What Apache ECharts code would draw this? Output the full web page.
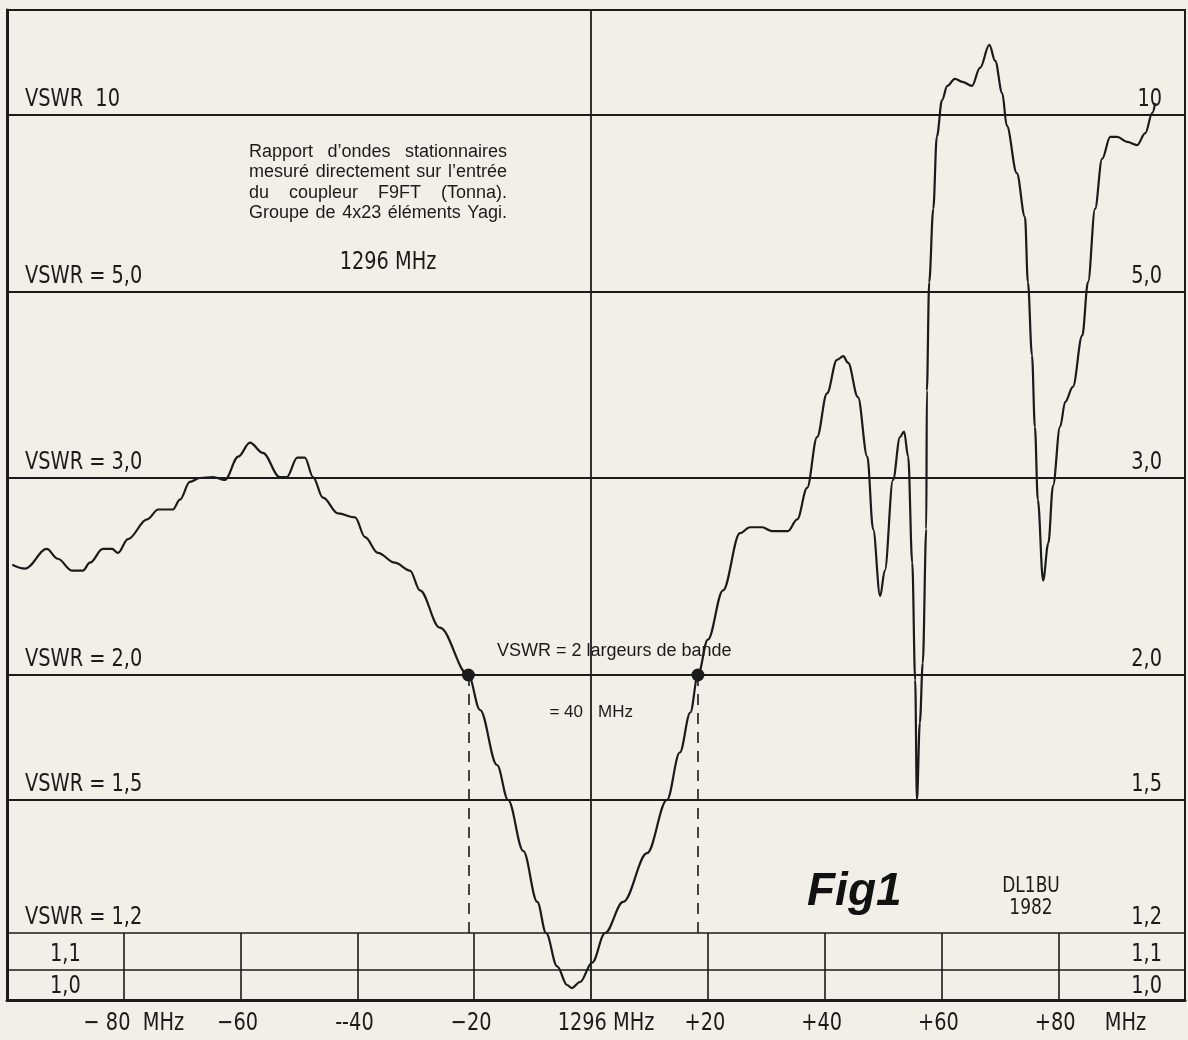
<!DOCTYPE html>
<html><head><meta charset="utf-8">
<script src="https://cdn.jsdelivr.net/npm/echarts@6/dist/echarts.min.js"></script>
<style>html,body{margin:0;padding:0;background:#f2eee8}#c{width:1188px;height:1040px}</style>
</head><body><div id="c"></div>
<script>
// ---- data ----
// frequency offset from 1296 MHz (MHz)
const freqMHz = [
  -99.1, -96.9, -93.2, -91.3, -88.9, -87.0, -85.8, -83.6, -82.0, -81.0, -79.3, -76.0, -74.1, -71.6, -70.4, -68.7,
  -67.0, -64.7, -62.7, -60.4, -58.4, -56.2, -53.3, -52.1, -50.3, -49.0, -47.6, -45.9, -43.3, -40.4, -38.7, -36.5,
  -33.6, -31.0, -29.3, -25.9, -21.0,
  -19.0, -16.1, -14.2, -11.6, -9.2, -7.7, -5.8, -4.1, -3.3, -1.9, 0.2, 2.4, 5.5, 9.6, 13.0, 15.2, 17.0, 18.3,
  20.0, 22.6, 25.5, 27.2, 29.3, 31.0, 33.7, 35.3, 37.0, 38.7, 40.4, 42.1, 43.2, 44.0, 45.7, 47.3, 48.3, 49.5,
  50.3, 51.7, 52.9, 53.6, 54.3, 55.0, 55.5, 55.8, 56.3, 56.8, 57.4, 57.5, 57.9, 58.6, 59.2, 60.1, 61.0, 62.3,
  63.7, 65.2, 66.6, 68.2, 69.2, 70.4, 71.2, 72.9, 74.3, 74.8, 75.5, 76.0, 76.5, 77.4, 78.3, 79.1, 80.3, 81.2,
  82.5, 84.1, 85.1, 86.3, 87.5, 88.9, 90.1, 91.8, 93.5, 94.9, 96.1, 96.6
];
// measured VSWR
const vswr = [
  2.56, 2.54, 2.64, 2.59, 2.53, 2.53, 2.57, 2.64, 2.64, 2.62, 2.69, 2.79, 2.84, 2.84, 2.89, 2.98,
  3.00, 3.01, 2.99, 3.23, 3.38, 3.27, 3.01, 3.01, 3.22, 3.22, 3.01, 2.90, 2.82, 2.80, 2.70, 2.62,
  2.57, 2.53, 2.43, 2.24, 2.00,
  1.86, 1.64, 1.50, 1.385, 1.27, 1.20, 1.11, 1.05, 1.04, 1.06, 1.12, 1.20, 1.27, 1.38, 1.50, 1.69, 1.85, 2.00,
  2.18, 2.43, 2.72, 2.75, 2.75, 2.73, 2.73, 2.79, 2.95, 3.44, 3.91, 4.27, 4.31, 4.24, 3.87, 3.23, 2.74, 2.40,
  2.53, 2.99, 3.44, 3.50, 3.23, 2.57, 1.98, 1.50, 1.81, 2.06, 2.74, 3.94, 5.28, 7.35, 9.38, 10.42, 10.82, 11.02,
  10.93, 10.82, 11.33, 11.98, 11.53, 10.62, 9.69, 8.36, 7.12, 5.28, 4.32, 3.55, 2.89, 2.48, 2.67, 2.96, 3.55, 3.82,
  3.98, 4.53, 5.28, 7.35, 8.76, 9.38, 9.38, 9.24, 9.15, 9.49, 10.06, 10.34
];
const vswrTicks = [1.0, 1.1, 1.2, 1.5, 2.0, 3.0, 5.0, 10];
const leftTickLabels = ['1,0', '1,1', 'VSWR = 1,2', 'VSWR = 1,5', 'VSWR = 2,0', 'VSWR = 3,0', 'VSWR = 5,0', 'VSWR  10'];
const rightTickLabels = ['1,0', '1,1', '1,2', '1,5', '2,0', '3,0', '5,0', '10'];
const freqTicks = [-80, -60, -40, -20, 0, 20, 40, 60, 80];
const freqTickLabels = ['− 80  MHz', '−60', '--40', '−20', '1296 MHz', '+20', '+40', '+60', '+80'];
const bandEdges = [-21.0, 18.3];
const bandVswr = 2.0;
const noteLines = ['Rapport d\u2019ondes stationnaires', 'mesuré directement sur l\u2019entrée', 'du coupleur F9FT (Tonna).', 'Groupe de 4x23 éléments Yagi.'];

// ---- nonlinear VSWR scale of the original chart paper (axis units per tick) ----
const scaleStops = [0, 30, 67, 200, 325, 522, 708, 885];
function toScale(v) {
  const n = vswrTicks.length;
  for (let i = 0; i < n - 1; i++) {
    if (v <= vswrTicks[i + 1]) {
      const t = (v - vswrTicks[i]) / (vswrTicks[i + 1] - vswrTicks[i]);
      return scaleStops[i] + t * (scaleStops[i + 1] - scaleStops[i]);
    }
  }
  const slope = (scaleStops[n - 1] - scaleStops[n - 2]) / (vswrTicks[n - 1] - vswrTicks[n - 2]);
  return scaleStops[n - 1] + (v - vswrTicks[n - 1]) * slope;
}

const INK = '#1b1b1b';
const BG = '#f2eee8';
const NARROW = "'DejaVu Sans Condensed','Liberation Sans Narrow','Liberation Sans',sans-serif";
const SANS = "'Liberation Sans','Arial',sans-serif";
const SQ = 0.86; // horizontal squeeze for the condensed lettering

const chart = echarts.init(document.getElementById('c'));
const curve = freqMHz.map((f, i) => [f, toScale(vswr[i])]);

const markData = [];
vswrTicks.forEach((v, i) => {
  if (i === 0) return;
  markData.push({ yAxis: toScale(v), lineStyle: { color: INK, width: v <= 1.2 ? 1.6 : 2, type: 'solid' } });
});
markData.push({ xAxis: 0, lineStyle: { color: INK, width: 1.8, type: 'solid' } });
freqTicks.forEach(f => {
  if (f === 0) return;
  markData.push([{ coord: [f, toScale(1.0)], lineStyle: { color: INK, width: 1.6, type: 'solid' } }, { coord: [f, toScale(1.2)] }]);
});
bandEdges.forEach(f => {
  markData.push([{ coord: [f, toScale(bandVswr)], lineStyle: { color: INK, width: 1.6, type: [11, 8] } }, { coord: [f, toScale(1.2)] }]);
});

chart.setOption({
  backgroundColor: BG,
  animation: false,
  grid: { left: 7, top: 10, width: 1178, height: 990, show: true, borderColor: INK, borderWidth: 2, backgroundColor: 'transparent' },
  xAxis: {
    type: 'value', min: -100, max: 101.7, interval: 20,
    axisLine: { show: true, onZero: false, lineStyle: { color: INK, width: 3 } },
    axisTick: { show: false }, splitLine: { show: false }, axisLabel: { show: false }
  },
  yAxis: {
    type: 'value', min: 0, max: 990,
    axisLine: { show: true, onZero: false, lineStyle: { color: INK, width: 3 } },
    axisTick: { show: false }, axisLabel: { show: false }, splitLine: { show: false }
  },
  series: [
    {
      type: 'line', data: curve, smooth: 0.35, smoothMonotone: 'x', showSymbol: false,
      lineStyle: { color: INK, width: 2.2 }, z: 5
    },
    {
      type: 'scatter', data: bandEdges.map(f => [f, toScale(bandVswr)]), symbolSize: 13,
      itemStyle: { color: INK, opacity: 1 }, z: 6,
      markLine: { silent: true, symbol: ['none', 'none'], label: { show: false }, data: markData, z: 2 }
    }
  ]
});

function px(f, v) { return chart.convertToPixel({ xAxisIndex: 0, yAxisIndex: 0 }, [f, toScale(v)]); }
function txt(x, y, text, font, align, valign, sx, fill) {
  return { type: 'text', x: x, y: y, scaleX: sx || 1, style: { text: text, font: font, fill: fill || INK, textAlign: align, textVerticalAlign: valign } };
}
const g = [];
const cellCenter = (-100 + freqTicks[0]) / 2;
vswrTicks.forEach((v, i) => {
  const p = px(0, v);
  const yb = v === 1.0 ? p[1] - 1 : p[1] - 3;
  if (v <= 1.1) {
    g.push(txt(px(cellCenter, v)[0], yb, leftTickLabels[i], `25px ${NARROW}`, 'center', 'bottom', SQ));
  } else {
    g.push(txt(25, yb, leftTickLabels[i], `25px ${NARROW}`, 'left', 'bottom', SQ));
  }
  g.push(txt(1162, yb, rightTickLabels[i], `25px ${NARROW}`, 'right', 'bottom', SQ));
});
// x tick labels under the frame
const yAx = px(0, 1.0)[1];
const labelShift = { '-80': 10, '0': 15 };
freqTicks.forEach((f, i) => {
  const x = px(f, 1.0)[0] + (labelShift[String(f)] || -3);
  g.push(txt(x, yAx + 23, freqTickLabels[i], `25px ${NARROW}`, 'center', 'middle', SQ));
});
g.push(txt(px(91.5, 1.0)[0], yAx + 23, 'MHz', `25px ${NARROW}`, 'center', 'middle', SQ));

// justified note block
const ctx = document.createElement('canvas').getContext('2d');
const noteFont = `18px ${SANS}`;
ctx.font = noteFont;
const noteY = [152, 172, 193, 213];
const noteL = 249, noteR = 507;
noteLines.forEach((t, i) => {
  const words = t.split(' ');
  const widths = words.map(w => ctx.measureText(w).width);
  const total = widths.reduce((a, b) => a + b, 0);
  const gap = (noteR - noteL - total) / (words.length - 1);
  let x = noteL;
  words.forEach((w, k) => {
    g.push(txt(x, noteY[i], w, noteFont, 'left', 'middle'));
    x += widths[k] + gap;
  });
});
g.push(txt(388, 262, '1296 MHz', `25px ${NARROW}`, 'center', 'middle', SQ));
g.push(txt(497, 651, 'VSWR = 2 largeurs de bande', `18px ${SANS}`, 'left', 'middle'));
g.push(txt(583, 712, '= 40', `17px ${SANS}`, 'right', 'middle'));
g.push(txt(598, 712, 'MHz', `17px ${SANS}`, 'left', 'middle'));
g.push(txt(807, 892, 'Fig1', `italic bold 46px ${SANS}`, 'left', 'middle', 1, '#111'));
g.push(txt(1031, 886, 'DL1BU', `22px ${NARROW}`, 'center', 'middle', SQ));
g.push(txt(1031, 908, '1982', `22px ${NARROW}`, 'center', 'middle', SQ));
chart.setOption({ graphic: g });
</script>
</body></html>
